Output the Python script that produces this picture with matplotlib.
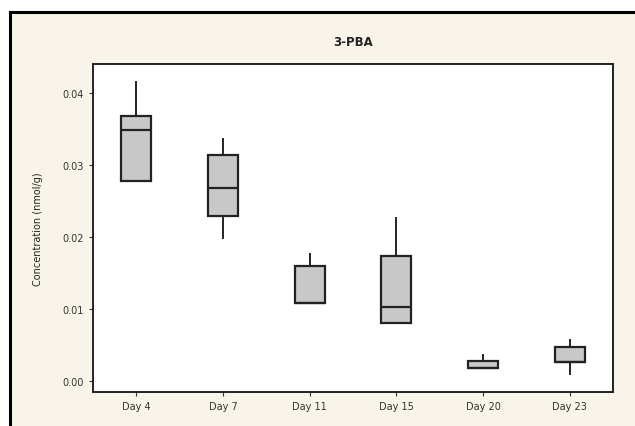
#!/usr/bin/env python3

import matplotlib
matplotlib.use('Agg')
import matplotlib.pyplot as plt
from matplotlib.patches import Rectangle

######################
# Data
######################
DAYS = ['Day 4', 'Day 7', 'Day 11', 'Day 15', 'Day 20', 'Day 23']
WHISK_LO = [0.0278, 0.0199, 0.0108, 0.0081, 0.0018, 0.0010]
Q1 = [0.0278, 0.0229, 0.0108, 0.0081, 0.0018, 0.0026]
MEDIAN = [0.0349, 0.0268, 0.0108, 0.0103, 0.0018, 0.0026]
Q3 = [0.0368, 0.0314, 0.0160, 0.0174, 0.0028, 0.0047]
WHISK_HI = [0.0415, 0.0336, 0.0176, 0.0226, 0.0036, 0.0057]

YTICKS = [0.00, 0.01, 0.02, 0.03, 0.04]

BG = '#f8f4e9'

fig = plt.figure(figsize=(6.35, 4.27), dpi=100)
fig.patch.set_facecolor('white')

# beige panel with black frame (cropped on right and bottom)
panel = Rectangle((10/635, 0), 1 - 10/635, 1 - 13/427, transform=fig.transFigure,
                  facecolor=BG, edgecolor='none', zorder=0)
fig.patches.append(panel)
fig.add_artist(plt.Line2D([10/635, 10/635], [0, 1 - 13/427], color='black', lw=2.2,
                          transform=fig.transFigure, zorder=1))
fig.add_artist(plt.Line2D([10/635, 1], [1 - 13/427, 1 - 13/427], color='black', lw=2.2,
                          transform=fig.transFigure, zorder=1))

ax = fig.add_axes([93/635, 34/427, 520/635, 328/427])
ax.set_zorder(5)
ax.set_facecolor('white')

stats = []
for i, d in enumerate(DAYS):
    stats.append(dict(label=d, whislo=WHISK_LO[i], q1=Q1[i], med=MEDIAN[i],
                      q3=Q3[i], whishi=WHISK_HI[i], fliers=[]))

ax.bxp(stats, positions=range(len(DAYS)), widths=0.345, showcaps=False,
       patch_artist=True,
       boxprops=dict(facecolor='#c8c8c8', edgecolor='#222222', linewidth=1.6),
       medianprops=dict(color='#222222', linewidth=1.6),
       whiskerprops=dict(color='#222222', linewidth=1.4))

ax.set_xlim(-0.5, 5.5)
ax.set_ylim(-0.0015, 0.044)
ax.set_yticks(YTICKS)
ax.set_yticklabels(['%.2f' % v for v in YTICKS])
ax.tick_params(labelsize=7, length=3, width=0.8, colors='#333333')

for s in ax.spines.values():
    s.set_linewidth(1.4)
    s.set_color('#222222')

ax.set_ylabel('Concentration (nmol/g)', fontsize=7, color='#222222', labelpad=14)
fig.text(353/635, 1 - 43/427, '3-PBA', ha='center', va='center', fontsize=8.5,
         fontweight='bold', color='#222222', zorder=6)

plt.savefig('out.png', dpi=100, facecolor=fig.get_facecolor())
